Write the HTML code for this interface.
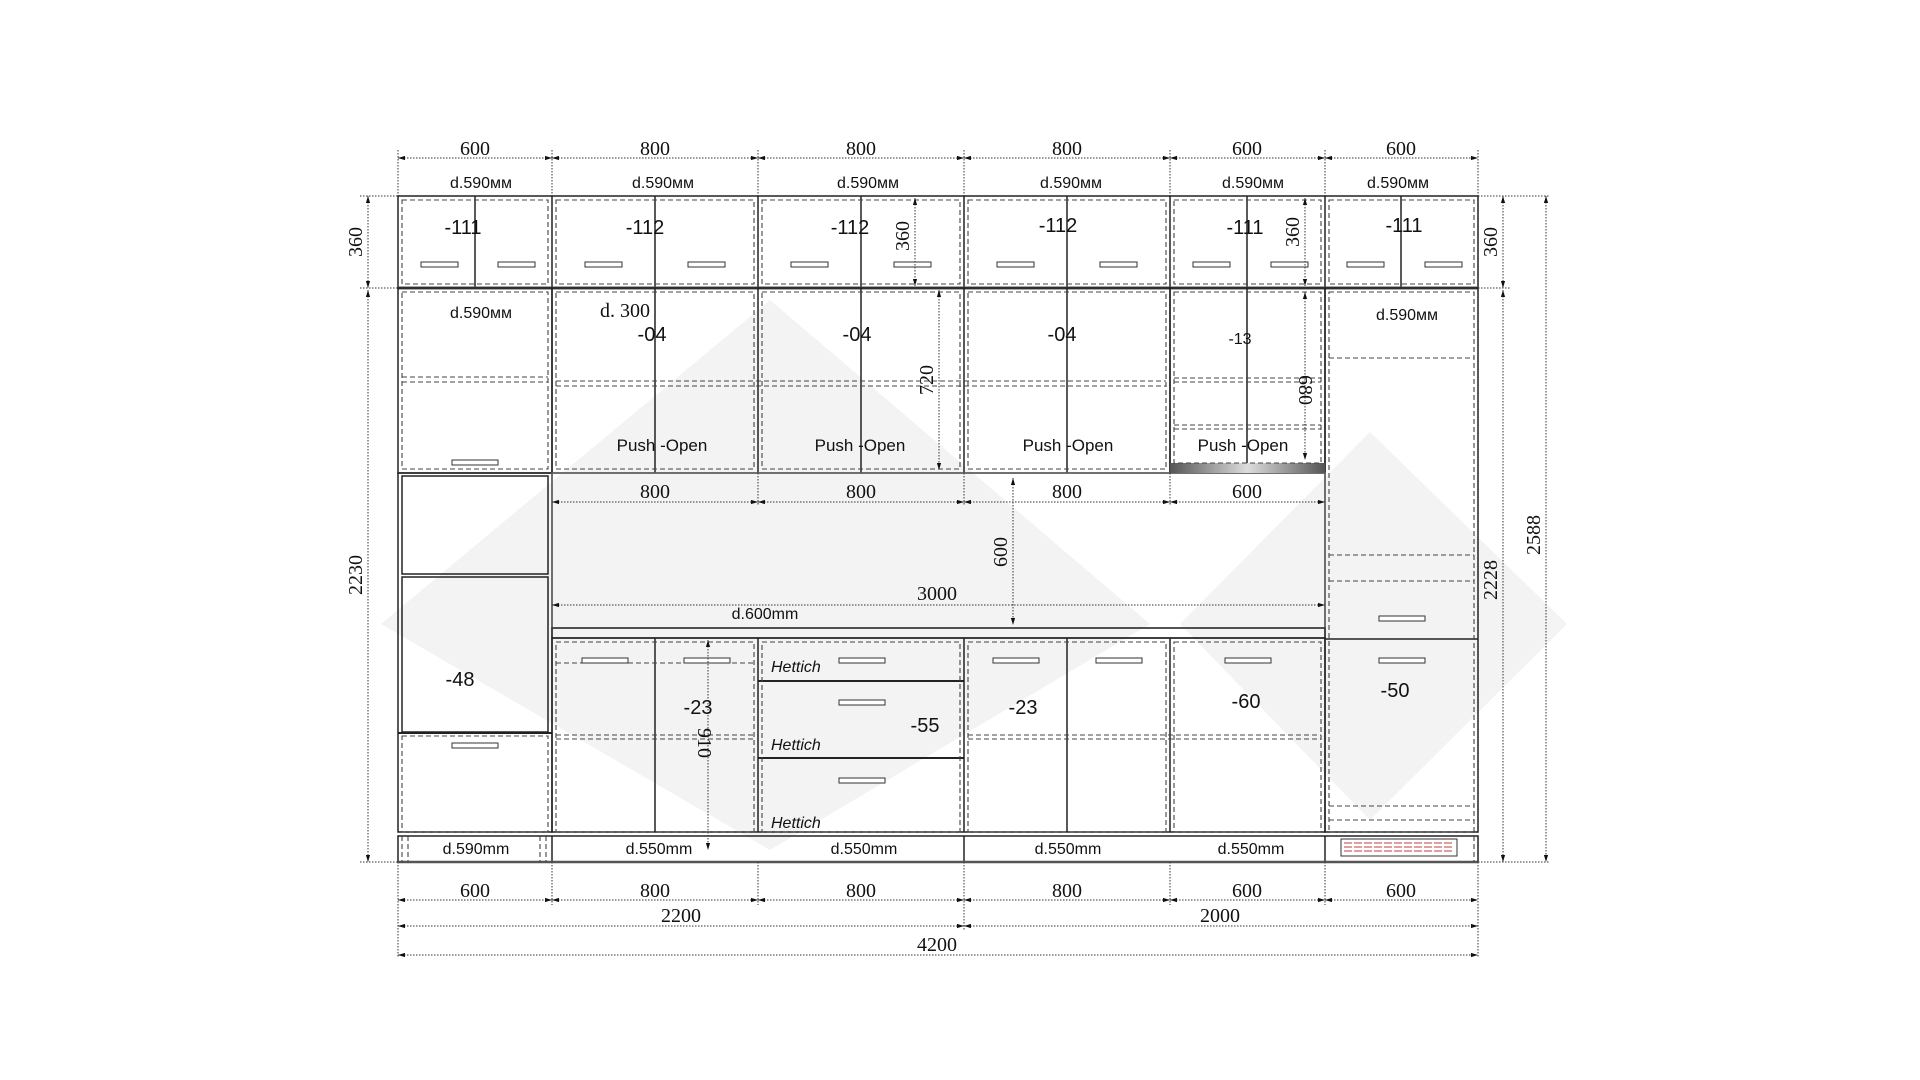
<!DOCTYPE html>
<html><head><meta charset="utf-8"><style>
html,body{margin:0;padding:0;background:#fff;}
svg{display:block;}
.s{font-family:"Liberation Sans",sans-serif;fill:#111;}
.r{font-family:"Liberation Serif",serif;fill:#111;}
</style></head><body>
<svg width="1920" height="1080" viewBox="0 0 1920 1080" xmlns="http://www.w3.org/2000/svg">
<defs>
<marker id="a" viewBox="0 0 10 10" refX="10" refY="5" markerWidth="7" markerHeight="7" orient="auto-start-reverse"><path d="M0,2 L10,5 L0,8 z" fill="#111"/></marker>
<linearGradient id="g" x1="0" x2="1"><stop offset="0" stop-color="#555"/><stop offset="0.5" stop-color="#ddd"/><stop offset="1" stop-color="#555"/></linearGradient>
</defs>
<polygon points="381,624 770,300 1150,624 770,850" fill="#f3f3f3"/>
<polygon points="1180,624 1370,432 1567,624 1370,820" fill="#f3f3f3"/>

<g stroke="#222" fill="none" stroke-width="1.5">
<rect x="398" y="196" width="1080" height="92"/>
<line x1="552" y1="196" x2="552" y2="288"/><line x1="758" y1="196" x2="758" y2="288"/><line x1="964" y1="196" x2="964" y2="288"/><line x1="1170" y1="196" x2="1170" y2="288"/><line x1="1325" y1="196" x2="1325" y2="288"/>
<line x1="475" y1="196" x2="475" y2="288"/><line x1="655" y1="196" x2="655" y2="288"/><line x1="861" y1="196" x2="861" y2="288"/><line x1="1067" y1="196" x2="1067" y2="288"/><line x1="1247" y1="196" x2="1247" y2="288"/><line x1="1401" y1="196" x2="1401" y2="288"/>
<line x1="398" y1="288" x2="1478" y2="288" stroke-width="3" stroke="#555"/>
<rect x="398" y="288" width="154" height="185"/>
<rect x="552" y="288" width="618" height="185"/>
<line x1="758" y1="288" x2="758" y2="473"/><line x1="964" y1="288" x2="964" y2="473"/>
<rect x="1170" y="288" width="155" height="185"/>
<line x1="655" y1="288" x2="655" y2="473"/><line x1="861" y1="288" x2="861" y2="473"/><line x1="1067" y1="288" x2="1067" y2="473"/><line x1="1247" y1="288" x2="1247" y2="463"/>
<rect x="1325" y="288" width="153" height="544"/>
<line x1="1325" y1="639" x2="1478" y2="639"/>
<rect x="398" y="473" width="154" height="359"/>
<rect x="402" y="476" width="146" height="98"/>
<rect x="402" y="577" width="146" height="155"/>
<line x1="398" y1="733" x2="552" y2="733" stroke-width="2"/>
<rect x="552" y="473" width="773" height="155" stroke="#666"/>
<rect x="552" y="628" width="773" height="10" stroke="#333"/>
<rect x="552" y="638" width="773" height="194"/>
<line x1="758" y1="638" x2="758" y2="832"/><line x1="964" y1="638" x2="964" y2="832"/><line x1="1170" y1="638" x2="1170" y2="832"/>
<line x1="655" y1="638" x2="655" y2="832"/><line x1="1067" y1="638" x2="1067" y2="832"/>
<line x1="758" y1="681" x2="964" y2="681" stroke-width="2"/><line x1="758" y1="758" x2="964" y2="758" stroke-width="2"/>
<rect x="398" y="836" width="1080" height="26"/>
<line x1="552" y1="836" x2="552" y2="862"/><line x1="964" y1="836" x2="964" y2="862"/><line x1="1325" y1="836" x2="1325" y2="862"/>
<line x1="398" y1="862" x2="1478" y2="862" stroke-width="2.5" stroke="#555"/>
</g>
<rect x="1170" y="463" width="155" height="10" fill="url(#g)"/>

<g stroke="#444" fill="none" stroke-width="1.1" stroke-dasharray="5,3">
<rect x="402" y="200" width="146" height="84"/><rect x="556" y="200" width="198" height="84"/><rect x="762" y="200" width="198" height="84"/><rect x="968" y="200" width="198" height="84"/><rect x="1174" y="200" width="147" height="84"/><rect x="1329" y="200" width="145" height="84"/>
<rect x="402" y="292" width="146" height="177"/><line x1="402" y1="377" x2="548" y2="377"/><line x1="402" y1="382" x2="548" y2="382"/>
<rect x="556" y="292" width="198" height="177"/><rect x="762" y="292" width="198" height="177"/><rect x="968" y="292" width="198" height="177"/>
<line x1="556" y1="381" x2="1166" y2="381"/><line x1="556" y1="386" x2="1166" y2="386"/>
<rect x="1174" y="292" width="147" height="171"/>
<line x1="1174" y1="378" x2="1321" y2="378"/><line x1="1174" y1="382" x2="1321" y2="382"/>
<line x1="1174" y1="425" x2="1321" y2="425"/><line x1="1174" y1="429" x2="1321" y2="429"/>
<rect x="1329" y="292" width="145" height="540"/>
<line x1="1329" y1="358" x2="1474" y2="358"/><line x1="1329" y1="555" x2="1474" y2="555"/><line x1="1329" y1="581" x2="1474" y2="581"/>
<line x1="1329" y1="806" x2="1474" y2="806"/><line x1="1329" y1="820" x2="1474" y2="820"/>
<rect x="402" y="736" width="146" height="96"/>
<rect x="556" y="642" width="198" height="190"/><rect x="762" y="642" width="198" height="190"/><rect x="968" y="642" width="198" height="190"/><rect x="1174" y="642" width="147" height="190"/>
<line x1="556" y1="663" x2="754" y2="663"/>
<line x1="556" y1="735" x2="754" y2="735"/><line x1="556" y1="739" x2="754" y2="739"/>
<line x1="968" y1="735" x2="1321" y2="735"/><line x1="968" y1="739" x2="1321" y2="739"/>
<line x1="402" y1="836" x2="402" y2="862"/><line x1="408" y1="836" x2="408" y2="862"/><line x1="540" y1="836" x2="540" y2="862"/><line x1="546" y1="836" x2="546" y2="862"/>
<line x1="1474" y1="836" x2="1474" y2="862"/>
</g>

<g fill="#fff" stroke="#333" stroke-width="1">
<rect x="421" y="262" width="37" height="5"/><rect x="498" y="262" width="37" height="5"/>
<rect x="585" y="262" width="37" height="5"/><rect x="688" y="262" width="37" height="5"/>
<rect x="791" y="262" width="37" height="5"/><rect x="894" y="262" width="37" height="5"/>
<rect x="997" y="262" width="37" height="5"/><rect x="1100" y="262" width="37" height="5"/>
<rect x="1193" y="262" width="37" height="5"/><rect x="1271" y="262" width="37" height="5"/>
<rect x="1347" y="262" width="37" height="5"/><rect x="1425" y="262" width="37" height="5"/>
<rect x="452" y="460" width="46" height="5"/>
<rect x="452" y="743" width="46" height="5"/>
<rect x="582" y="658" width="46" height="5"/><rect x="684" y="658" width="46" height="5"/>
<rect x="839" y="658" width="46" height="5"/><rect x="839" y="700" width="46" height="5"/><rect x="839" y="778" width="46" height="5"/>
<rect x="993" y="658" width="46" height="5"/><rect x="1096" y="658" width="46" height="5"/>
<rect x="1225" y="658" width="46" height="5"/>
<rect x="1379" y="658" width="46" height="5"/><rect x="1379" y="616" width="46" height="5"/>
</g>
<rect x="1341" y="839" width="116" height="17" fill="#fff" stroke="#333"/>
<g stroke="#c66" stroke-width="1.2" stroke-dasharray="8,2"><line x1="1344" y1="843" x2="1454" y2="843"/><line x1="1344" y1="847" x2="1454" y2="847"/><line x1="1344" y1="851" x2="1454" y2="851"/></g>

<g stroke="#333" stroke-width="1" stroke-dasharray="1.5,1.5" fill="none">
<line x1="398" y1="150" x2="398" y2="196"/><line x1="552" y1="150" x2="552" y2="196"/><line x1="758" y1="150" x2="758" y2="196"/><line x1="964" y1="150" x2="964" y2="196"/><line x1="1170" y1="150" x2="1170" y2="196"/><line x1="1325" y1="150" x2="1325" y2="196"/><line x1="1478" y1="150" x2="1478" y2="196"/>
<line x1="398" y1="862" x2="398" y2="958"/><line x1="552" y1="862" x2="552" y2="905"/><line x1="758" y1="862" x2="758" y2="905"/><line x1="964" y1="862" x2="964" y2="930"/><line x1="1170" y1="862" x2="1170" y2="905"/><line x1="1325" y1="862" x2="1325" y2="905"/><line x1="1478" y1="862" x2="1478" y2="958"/>
<line x1="360" y1="196" x2="398" y2="196"/><line x1="360" y1="288" x2="398" y2="288"/><line x1="360" y1="862" x2="398" y2="862"/>
<line x1="1478" y1="196" x2="1550" y2="196"/><line x1="1478" y1="288" x2="1510" y2="288"/><line x1="1478" y1="862" x2="1550" y2="862"/>
<line x1="758" y1="473" x2="758" y2="505"/><line x1="964" y1="473" x2="964" y2="505"/><line x1="1170" y1="473" x2="1170" y2="505"/>
</g>
<g stroke="#333" stroke-width="1" stroke-dasharray="1.5,1.5" marker-start="url(#a)" marker-end="url(#a)">
<line x1="398" y1="158" x2="552" y2="158"/><line x1="552" y1="158" x2="758" y2="158"/><line x1="758" y1="158" x2="964" y2="158"/><line x1="964" y1="158" x2="1170" y2="158"/><line x1="1170" y1="158" x2="1325" y2="158"/><line x1="1325" y1="158" x2="1478" y2="158"/>
<line x1="398" y1="900" x2="552" y2="900"/><line x1="552" y1="900" x2="758" y2="900"/><line x1="758" y1="900" x2="964" y2="900"/><line x1="964" y1="900" x2="1170" y2="900"/><line x1="1170" y1="900" x2="1325" y2="900"/><line x1="1325" y1="900" x2="1478" y2="900"/>
<line x1="398" y1="926" x2="964" y2="926"/><line x1="964" y1="926" x2="1478" y2="926"/>
<line x1="398" y1="955" x2="1478" y2="955"/>
<line x1="552" y1="502" x2="758" y2="502"/><line x1="758" y1="502" x2="964" y2="502"/><line x1="964" y1="502" x2="1170" y2="502"/><line x1="1170" y1="502" x2="1325" y2="502"/>
<line x1="552" y1="605" x2="1325" y2="605"/>
<line x1="1013" y1="478" x2="1013" y2="625"/>
<line x1="368" y1="196" x2="368" y2="288"/><line x1="368" y1="290" x2="368" y2="862"/>
<line x1="1503" y1="196" x2="1503" y2="288"/><line x1="1503" y1="290" x2="1503" y2="862"/>
<line x1="1546" y1="196" x2="1546" y2="862"/>
<line x1="915" y1="198" x2="915" y2="286"/><line x1="939" y1="290" x2="939" y2="470"/>
<line x1="1305" y1="198" x2="1305" y2="286"/><line x1="1305" y1="292" x2="1305" y2="460"/>
<line x1="708" y1="640" x2="708" y2="850"/>
</g>

<g class="r" font-size="20" text-anchor="middle">
<text x="475" y="155">600</text><text x="655" y="155">800</text><text x="861" y="155">800</text><text x="1067" y="155">800</text><text x="1247" y="155">600</text><text x="1401" y="155">600</text>
<text x="655" y="498">800</text><text x="861" y="498">800</text><text x="1067" y="498">800</text><text x="1247" y="498">600</text>
<text x="937" y="600">3000</text>
<text x="475" y="897">600</text><text x="655" y="897">800</text><text x="861" y="897">800</text><text x="1067" y="897">800</text><text x="1247" y="897">600</text><text x="1401" y="897">600</text>
<text x="681" y="922">2200</text><text x="1220" y="922">2000</text>
<text x="937" y="951">4200</text>
<text transform="translate(362,242) rotate(-90)">360</text>
<text transform="translate(362,575) rotate(-90)">2230</text>
<text transform="translate(1497,242) rotate(-90)">360</text>
<text transform="translate(1497,580) rotate(-90)">2228</text>
<text transform="translate(1540,535) rotate(-90)">2588</text>
<text transform="translate(1007,552) rotate(-90)">600</text>
<text transform="translate(909,236) rotate(-90)">360</text>
<text transform="translate(1299,232) rotate(-90)">360</text>
<text transform="translate(933,380) rotate(-90)">720</text>
<text transform="translate(1299,390) rotate(90)">680</text>
<text transform="translate(698,743) rotate(90)">910</text>
<text x="625" y="317" text-anchor="middle">d. 300</text>
</g>
<g class="s" font-size="16" text-anchor="middle">
<text x="481" y="188">d.590мм</text><text x="663" y="188">d.590мм</text><text x="868" y="188">d.590мм</text><text x="1071" y="188">d.590мм</text><text x="1253" y="188">d.590мм</text><text x="1398" y="188">d.590мм</text>
<text x="481" y="318">d.590мм</text><text x="1407" y="320">d.590мм</text>
<text x="765" y="619">d.600mm</text>
<text x="476" y="854">d.590mm</text><text x="659" y="854">d.550mm</text><text x="864" y="854">d.550mm</text><text x="1068" y="854">d.550mm</text><text x="1251" y="854">d.550mm</text>
</g>
<g class="s" font-size="17" text-anchor="middle">
<text x="662" y="451">Push -Open</text><text x="860" y="451">Push -Open</text><text x="1068" y="451">Push -Open</text><text x="1243" y="451">Push -Open</text>
</g>
<g class="s" font-size="20" text-anchor="middle">
<text x="463" y="234">-111</text><text x="645" y="234">-112</text><text x="850" y="234">-112</text><text x="1058" y="232">-112</text><text x="1245" y="234">-111</text><text x="1404" y="232">-111</text>
<text x="652" y="341">-04</text><text x="857" y="341">-04</text><text x="1062" y="341">-04</text>
<text x="460" y="686">-48</text><text x="698" y="714">-23</text><text x="1023" y="714">-23</text><text x="1246" y="708">-60</text><text x="1395" y="697">-50</text><text x="925" y="732">-55</text>
</g>
<text class="s" x="1240" y="344" font-size="16" text-anchor="middle">-13</text>
<g class="s" font-size="16" font-style="italic">
<text x="771" y="672">Hettich</text><text x="771" y="750">Hettich</text><text x="771" y="828">Hettich</text>
</g>
</svg>
</body></html>
